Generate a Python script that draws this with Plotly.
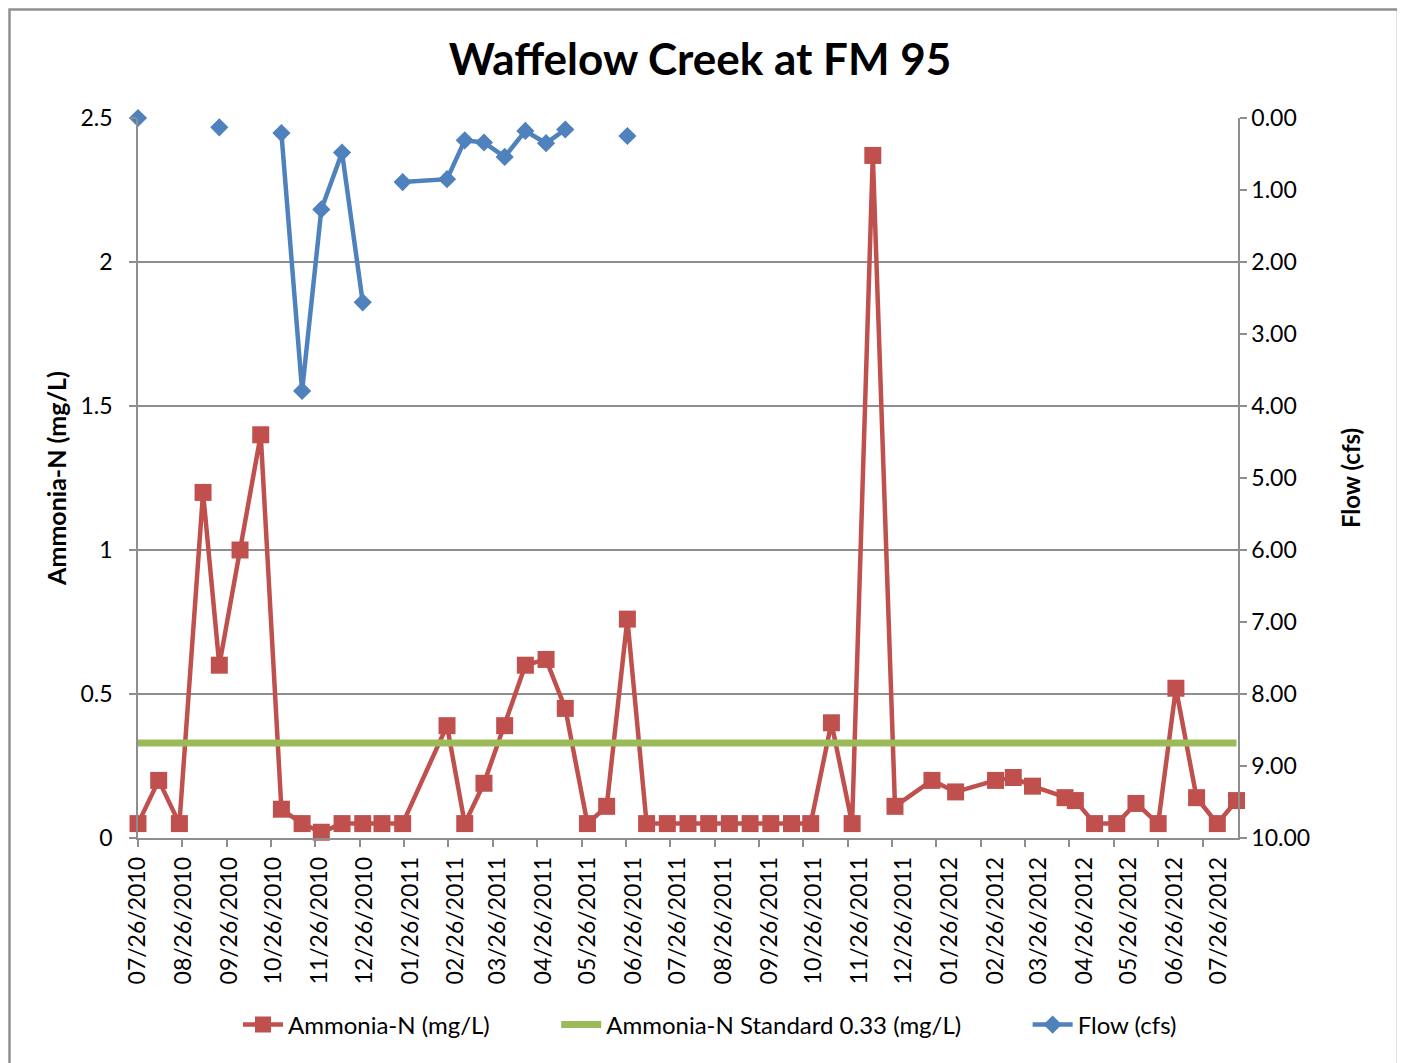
import plotly.graph_objects as go

# ---------------- data ----------------
dates = ["2010-07-26", "2010-08-09", "2010-08-23", "2010-09-08", "2010-09-19", "2010-10-03",
         "2010-10-17", "2010-10-31", "2010-11-14", "2010-11-27", "2010-12-11", "2010-12-25",
         "2011-01-07", "2011-01-21", "2011-02-20", "2011-03-04", "2011-03-17", "2011-03-31",
         "2011-04-14", "2011-04-28", "2011-05-11", "2011-05-26", "2011-06-08", "2011-06-22",
         "2011-07-05", "2011-07-19", "2011-08-02", "2011-08-16", "2011-08-30", "2011-09-13",
         "2011-09-27", "2011-10-11", "2011-10-24", "2011-11-07", "2011-11-21", "2011-12-05",
         "2011-12-20", "2012-01-14", "2012-01-30", "2012-02-26", "2012-03-09", "2012-03-22",
         "2012-04-13", "2012-04-20", "2012-05-03", "2012-05-18", "2012-05-31", "2012-06-15",
         "2012-06-27", "2012-07-11", "2012-07-25", "2012-08-07"]

ammonia = [0.05, 0.20, 0.05, 1.20, 0.60, 1.00, 1.40, 0.10, 0.05, 0.02, 0.05, 0.05,
           0.05, 0.05, 0.39, 0.05, 0.19, 0.39, 0.60, 0.62, 0.45, 0.05, 0.11, 0.76,
           0.05, 0.05, 0.05, 0.05, 0.05, 0.05, 0.05, 0.05, 0.05, 0.40, 0.05, 2.37,
           0.11, 0.20, 0.16, 0.20, 0.21, 0.18, 0.14, 0.13, 0.05, 0.05, 0.12, 0.05,
           0.52, 0.14, 0.05, 0.13]

flow = [0.00, None, None, None, 0.13, None, None, 0.21, 3.79, 1.27, 0.48, 2.56,
        None, 0.89, 0.85, 0.31, 0.34, 0.54, 0.18, 0.35, 0.16, None, None, 0.25,
        None, None, None, None, None, None, None, None, None, None, None, None,
        None, None, None, None, None, None, None, None, None, None, None, None,
        None, None, None, None]

standard_value = 0.33
standard_dates = [dates[0], dates[-1]]
standard = [standard_value, standard_value]

x_tick_dates = ["2010-07-26", "2010-08-26", "2010-09-26", "2010-10-26", "2010-11-26",
                "2010-12-26", "2011-01-26", "2011-02-26", "2011-03-26", "2011-04-26",
                "2011-05-26", "2011-06-26", "2011-07-26", "2011-08-26", "2011-09-26",
                "2011-10-26", "2011-11-26", "2011-12-26", "2012-01-26", "2012-02-26",
                "2012-03-26", "2012-04-26", "2012-05-26", "2012-06-26", "2012-07-26"]
left_ticks = [0, 0.5, 1, 1.5, 2, 2.5]
right_ticks = [0, 1, 2, 3, 4, 5, 6, 7, 8, 9, 10]

# ---------------- style ----------------
RED = "#C0504D"
GREEN = "#9BBB59"
BLUE = "#4F81BD"
GRID = "#8E8E8E"
FONT = "Lato"
PAD = "\u00a0" * 10  # spacing between legend entries

# page body has an 8px margin; compensate so the plot area sits at x 138..1238, y 118..838
OFF = 8
W, H = 1405, 1063
ML, MT = 138 - OFF, 118 - OFF
MR = W - (1238 - OFF)
MB = H - (838 - OFF)

fig = go.Figure()

fig.add_trace(go.Scatter(
    x=dates, y=ammonia, name="Ammonia-N (mg/L)" + PAD, mode="lines+markers",
    line=dict(color=RED, width=4.5),
    marker=dict(symbol="square", size=17, color=RED),
    cliponaxis=False, yaxis="y"))

fig.add_trace(go.Scatter(
    x=standard_dates, y=standard, name="Ammonia-N Standard 0.33 (mg/L)" + PAD, mode="lines",
    line=dict(color=GREEN, width=7), cliponaxis=False, yaxis="y"))

fig.add_trace(go.Scatter(
    x=dates, y=flow, name="Flow (cfs)", mode="lines+markers",
    line=dict(color=BLUE, width=4.5),
    marker=dict(symbol="diamond", size=14, color=BLUE),
    connectgaps=False, cliponaxis=False, yaxis="y2"))

fig.update_layout(
    width=W, height=H,
    margin=dict(l=ML, r=MR, t=MT, b=MB),
    paper_bgcolor="white", plot_bgcolor="white",
    font=dict(family=FONT, size=23, color="black"),
    title=dict(text="<b>Waffelow Creek at FM 95</b>", x=(700 - 138) / 1100, xanchor="center",
               xref="paper", y=1 - (60 - OFF) / H, yanchor="middle",
               font=dict(family=FONT, size=44, color="black")),
    showlegend=True,
    legend=dict(orientation="h", x=(710 - 138) / 1100, xanchor="center", y=(838 - 1025) / 720,
                yanchor="middle", font=dict(family=FONT, size=24, color="black"),
                itemwidth=40, traceorder="normal"),
    xaxis=dict(
        type="date", range=["2010-07-26", "2012-08-08"],
        tickmode="array", tickvals=x_tick_dates, tickformat="%m/%d/%Y", tickangle=-90,
        ticks="", showgrid=False, zeroline=False,
        showline=True, linecolor=GRID, linewidth=1.5,
        tickfont=dict(family=FONT, size=23, color="black"),
        ticklabelstandoff=8,
        minor=dict(ticks="outside", tick0="2010-07-26", dtick=30 * 86400000,
                   ticklen=7, tickwidth=1.5, tickcolor=GRID, showgrid=False),
    ),
    yaxis=dict(
        range=[0, 2.5], tickmode="array", tickvals=left_ticks,
        ticktext=[f"{v:g}" for v in left_ticks],
        showgrid=True, gridcolor=GRID, gridwidth=1.5, zeroline=False,
        showline=True, linecolor=GRID, linewidth=1.5,
        ticks="outside", ticklen=7, tickwidth=1.5, tickcolor=GRID,
        tickfont=dict(family=FONT, size=23, color="black"),
        ticklabelstandoff=12,
        title=dict(text="<b>Ammonia-N (mg/L)</b>", standoff=7,
                   font=dict(family=FONT, size=25, color="black")),
    ),
    yaxis2=dict(
        overlaying="y", side="right", range=[10, 0],
        tickmode="array", tickvals=right_ticks,
        ticktext=[f"{v:.2f}" for v in right_ticks],
        showgrid=False, zeroline=False,
        showline=True, linecolor=GRID, linewidth=1.5,
        ticks="outside", ticklen=7, tickwidth=1.5, tickcolor=GRID,
        tickfont=dict(family=FONT, size=23, color="black"),
        title=dict(text="<b>Flow (cfs)</b>", standoff=34,
                   font=dict(family=FONT, size=24, color="black")),
    ),
    shapes=[dict(type="rect", xref="paper", yref="paper",
                 x0=(9.5 - 138) / 1100, x1=(1398 - 138) / 1100,
                 y0=(838 - 1075) / 720, y1=(838 - 9.5) / 720,
                 line=dict(color="#909090", width=2.5), fillcolor="rgba(0,0,0,0)",
                 layer="below")],
)

fig.write_html("out.html")
